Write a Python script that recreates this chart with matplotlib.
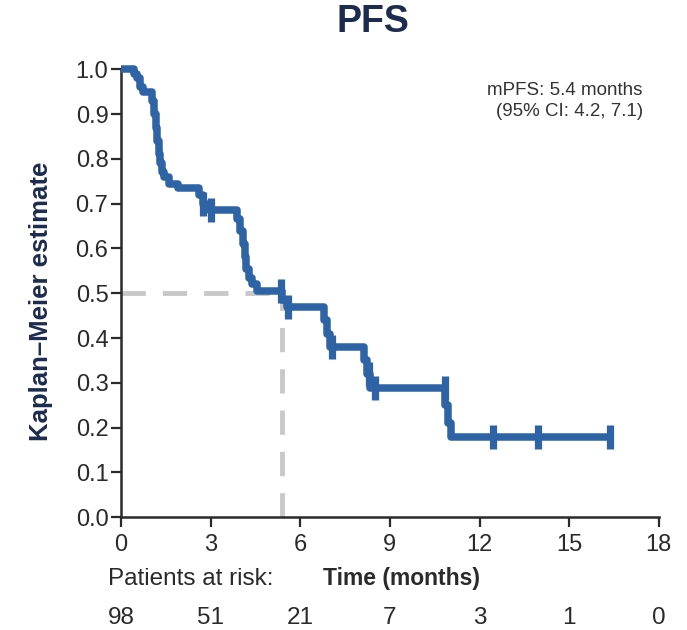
import matplotlib.pyplot as plt

plt.rcParams['font.family'] = ['Liberation Sans', 'DejaVu Sans']

# Kaplan-Meier step curve (time in months, survival after each step)
km_time = [0, 0.45, 0.55, 0.65, 0.75, 1.05, 1.12, 1.18, 1.22, 1.27, 1.32, 1.37,
           1.45, 1.6, 1.9, 2.6, 2.75, 2.95, 3.9, 4.0, 4.08, 4.15, 4.2, 4.3,
           4.4, 4.55, 5.4, 5.55, 6.8, 6.9, 7.0, 8.15, 8.25, 8.35, 10.85, 10.95,
           11.05, 16.35]
km_surv = [1.0, 0.99, 0.98, 0.96, 0.95, 0.93, 0.90, 0.87, 0.84, 0.81, 0.79, 0.77,
           0.76, 0.745, 0.735, 0.72, 0.70, 0.685, 0.665, 0.64, 0.61, 0.58, 0.555, 0.535,
           0.52, 0.505, 0.485, 0.47, 0.44, 0.41, 0.38, 0.35, 0.32, 0.288, 0.25, 0.21,
           0.178, 0.178]

# censored observations
cens_time = [2.75, 3.0, 5.35, 5.6, 7.05, 8.3, 8.5, 10.85, 12.45, 13.95, 16.35]
cens_surv = [0.70, 0.685, 0.505, 0.47, 0.38, 0.32, 0.288, 0.288, 0.178, 0.178, 0.178]

median_pfs = 5.4
risk_times = [0, 3, 6, 9, 12, 15, 18]
at_risk = [98, 51, 21, 7, 3, 1, 0]

blue = '#2E63A6'
navy = '#1C2B4E'
dark = '#2a2a2a'

fig = plt.figure(figsize=(6.87, 6.30), dpi=100)
ax = fig.add_axes([0.176, 0.179, 0.783, 0.711])

# median reference lines
ax.plot([0, median_pfs], [0.5, 0.5], color='#C8C8C8', lw=3.5, dashes=(5, 3.5), zorder=1)
ax.plot([median_pfs, median_pfs], [0, 0.5], color='#C8C8C8', lw=3.5, dashes=(5, 3.5), zorder=1)

ax.step(km_time, km_surv, where='post', color=blue, lw=5.4, solid_capstyle='butt',
        clip_on=False, zorder=3)
ax.plot(cens_time, cens_surv, ls='none', marker='|', ms=17, mew=5.2, color=blue,
        clip_on=False, zorder=3)

ax.set_xlim(0, 18)
ax.set_ylim(0, 1.0)
ax.set_xticks(risk_times)
ax.set_yticks([i / 10 for i in range(11)])
ax.set_yticklabels([f'{i / 10:.1f}' for i in range(11)])
ax.tick_params(labelsize=17, length=7, width=1.6, color=dark, labelcolor=dark)
ax.tick_params(axis='x', pad=5)
ax.tick_params(axis='y', pad=2)
for side in ['top', 'right']:
    ax.spines[side].set_visible(False)
for side in ['left', 'bottom']:
    ax.spines[side].set_linewidth(1.8)
    ax.spines[side].set_color(dark)

fig.text(41 / 687, 1 - 301 / 630, 'Kaplan\u2013Meier estimate', rotation=90,
         ha='center', va='center', fontsize=18.5, fontweight='bold', color=navy)
fig.text(0.543, 0.965, 'PFS', ha='center', va='center', fontsize=27,
         fontweight='bold', color=navy)

ax.text(0.970, 0.972, 'mPFS: 5.4 months\n(95% CI: 4.2, 7.1)', transform=ax.transAxes,
        ha='right', va='top', ma='right', fontsize=13.5, color='#333333', linespacing=1.3)

# number at risk table
fig.text(0.398, 0.081, 'Patients at risk:', ha='right', va='center', fontsize=17.5,
         color=dark)
fig.text(0.470, 0.081, 'Time (months)', ha='left', va='center', fontsize=16.5,
         fontweight='bold', color=dark)
for t, n in zip(risk_times, at_risk):
    ax.text(t, -0.225, str(n), transform=ax.get_xaxis_transform(), ha='center',
            va='center', fontsize=17.5, color=dark)

fig.savefig('out.png', dpi=100, facecolor='white')
